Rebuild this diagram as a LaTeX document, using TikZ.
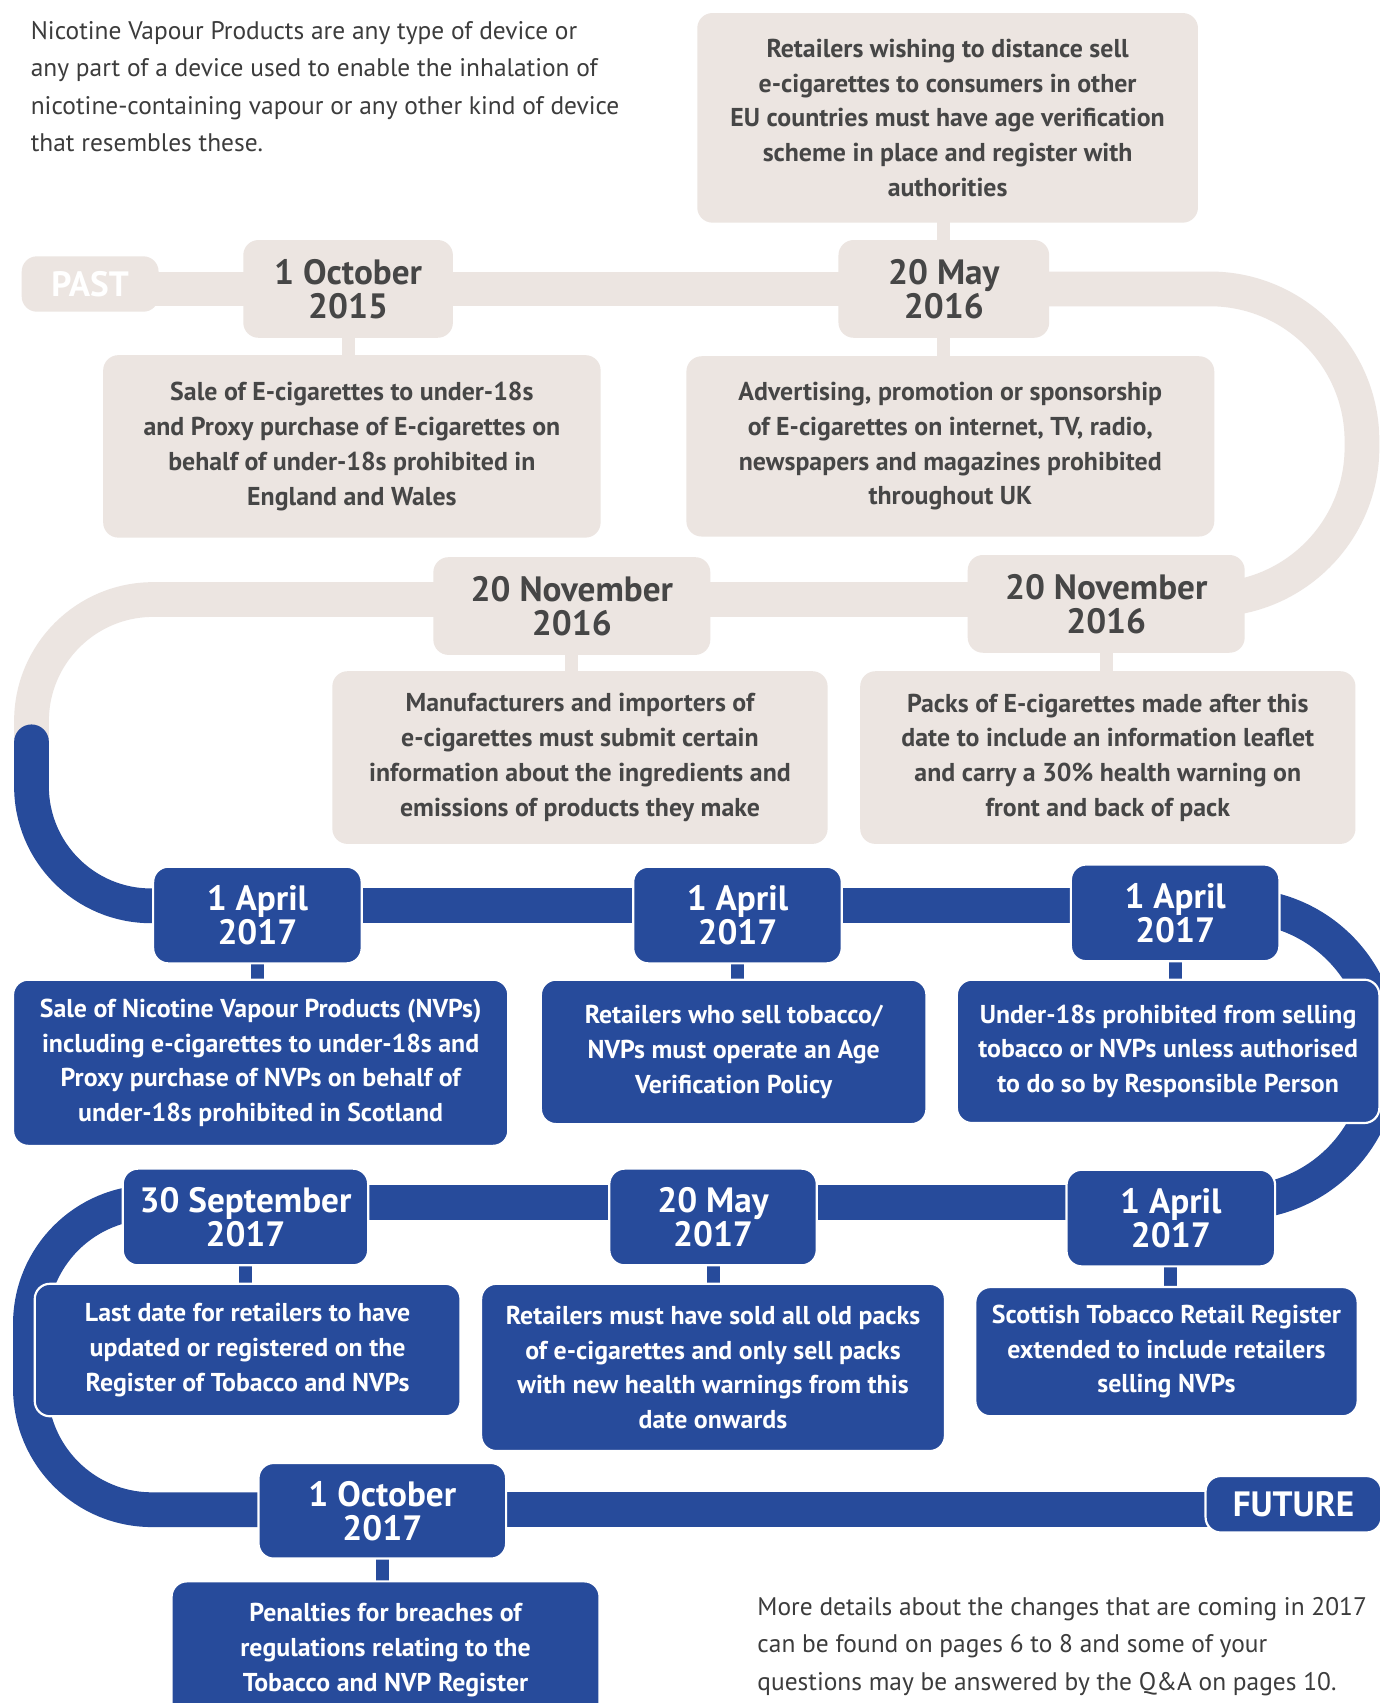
\documentclass[tikz,border=0pt]{standalone}
\usepackage{fontspec}
\setmainfont{PT Sans}
\usetikzlibrary{backgrounds}
\definecolor{beige}{HTML}{ECE5E1}
\definecolor{nblue}{HTML}{274B9B}
\definecolor{dgray}{HTML}{464646}
\definecolor{tgray}{HTML}{3C3C3C}
\newcommand\boxtxt{\bfseries\fontsize{11.9}{16}\selectfont}
\newcommand\datetxt{\bfseries\fontsize{16.2}{15.6}\selectfont}
\newcommand\introtxt{\fontsize{11.7}{17.3}\selectfont}
\newcommand\placebox[7]{\node[#6, minimum width={(#4-(#2))*0.5pt}, minimum height={(#5-(#3))*0.5pt}] (#1) at ({((#2)+(#4))/2},{((#3)+(#5))/2}) {#7};}
\tikzset{
  card/.style={rectangle, rounded corners=7pt, inner sep=0pt, align=center},
  bcard/.style={card, fill=beige, text=dgray, font=\boxtxt},
  bdate/.style={card, fill=beige, text=dgray, font=\datetxt},
  ucard/.style={card, fill=nblue, draw=white, line width=1pt, text=white, font=\boxtxt},
  udate/.style={card, fill=nblue, draw=white, line width=1pt, text=white, font=\datetxt},
  bband/.style={line width=16pt, draw=beige},
  uband/.style={line width=16pt, draw=nblue},
  bstem/.style={line width=6pt, draw=beige},
  ustem/.style={line width=6pt, draw=nblue},
}
\begin{document}
\begin{tikzpicture}[x=0.5pt, y=-0.5pt]
\useasboundingbox (0,0) rectangle (1270,1568);
% intro texts
\node[anchor=north west, align=left, text=tgray, font=\introtxt, inner sep=0pt] (intro) at (28,19)
  {Nicotine Vapour Products are any type of device or\\any part of a device used to enable the inhalation of\\nicotine-containing vapour or any other kind of device\\that resembles these.};
\node[anchor=north west, align=left, text=tgray, font=\introtxt, inner sep=0pt] (more) at (697,1470)
  {More details about the changes that are coming in 2017\\can be found on pages 6 to 8 and some of your\\questions may be answered by the Q\&A on pages 10.};
% beige boxes
\placebox{retail}{642}{12}{1103}{205}{bcard}{Retailers wishing to distance sell\\e-cigarettes to consumers in other\\EU countries must have age verification\\scheme in place and register with\\authorities}
\placebox{past}{20}{236}{146}{287}{bdate, text=white}{PAST}
\placebox{oct15}{224}{221}{417}{311}{bdate}{1 October\\2015}
\placebox{may16}{772}{221}{966}{311}{bdate}{20 May\\2016}
\placebox{saleEW}{95}{327}{553}{495}{bcard}{Sale of E-cigarettes to under-18s\\and Proxy purchase of E-cigarettes on\\behalf of under-18s prohibited in\\England and Wales}
\placebox{advert}{632}{328}{1118}{494}{bcard}{Advertising, promotion or sponsorship\\of E-cigarettes on internet, TV, radio,\\newspapers and magazines prohibited\\throughout UK}
\placebox{novL}{399}{513}{654}{603}{bdate}{20 November\\2016}
\placebox{novR}{891}{511}{1146}{601}{bdate}{20 November\\2016}
\placebox{manuf}{306}{618}{762}{777}{bcard}{Manufacturers and importers of\\e-cigarettes must submit certain\\information about the ingredients and\\emissions of products they make}
\placebox{packs}{792}{618}{1248}{777}{bcard}{Packs of E-cigarettes made after this\\date to include an information leaflet\\and carry a 30\% health warning on\\front and back of pack}
% blue boxes
\placebox{aprA}{141}{798}{333}{887}{udate}{1 April\\2017}
\placebox{aprB}{583}{798}{775}{887}{udate}{1 April\\2017}
\placebox{aprC}{986}{796}{1178}{885}{udate}{1 April\\2017}
\placebox{nvpScot}{12}{902}{468}{1055}{ucard}{Sale of Nicotine Vapour Products (NVPs)\\including e-cigarettes to under-18s and\\Proxy purchase of NVPs on behalf of\\under-18s prohibited in Scotland}
\placebox{ageVer}{498}{902}{853}{1035}{ucard}{Retailers who sell tobacco/\\NVPs must operate an Age\\Verification Policy}
\placebox{under18}{881}{902}{1270}{1034}{ucard}{Under-18s prohibited from selling\\tobacco or NVPs unless authorised\\to do so by Responsible Person}
\placebox{aprD}{982}{1077}{1174}{1166}{udate}{1 April\\2017}
\placebox{may17}{561}{1076}{752}{1165}{udate}{20 May\\2017}
\placebox{sep17}{113}{1076}{339}{1165}{udate}{30 September\\2017}
\placebox{lastDate}{32}{1182}{424}{1304}{ucard}{Last date for retailers to have\\updated or registered on the\\Register of Tobacco and NVPs}
\placebox{oldPacks}{443}{1182}{870}{1336}{ucard}{Retailers must have sold all old packs\\of e-cigarettes and only sell packs\\with new health warnings from this\\date onwards}
\placebox{scotReg}{898}{1185}{1250}{1304}{ucard}{Scottish Tobacco Retail Register\\extended to include retailers\\selling NVPs}
\placebox{oct17}{238}{1347}{466}{1435}{udate}{1 October\\2017}
\placebox{future}{1110}{1359}{1272}{1411}{udate}{FUTURE}
\placebox{penal}{158}{1456}{552}{1582}{ucard}{Penalties for breaches of\\regulations relating to the\\Tobacco and NVP Register}
% track and stems
\begin{scope}[on background layer]
\fill[white] (0,0) rectangle (1270,1568);
\coordinate (w1) at (1254,266);
\coordinate (w2) at (1254,552);
\coordinate (w3) at (29,552);
\coordinate (w4) at (29,700);
\coordinate (c0) at (29,683);
\coordinate (c1) at (29,834);
\coordinate (c2) at (1272,834);
\coordinate (c3) at (1272,1107);
\coordinate (c4) at (28,1107);
\coordinate (c5) at (28,1390);
\draw[bband] (past |- w1) -- (may16 |- w1);
\draw[bband, rounded corners=70pt] (may16 |- w1) -- (w1) -- (w2) -- (novR |- w2);
\draw[bband] (novR |- w2) -- (novL |- w2);
\draw[bband, rounded corners=56pt] (novL |- w2) -- (w3) -- (w4);
\draw[uband, line cap=round, rounded corners=55pt] (c0) -- (c1) -- (aprA |- c1);
\draw[uband] (aprA |- c1) -- (aprC |- c1);
\draw[uband, rounded corners=66pt] (aprC |- c1) -- (c2) -- (c3) -- (aprD |- c3);
\draw[uband] (aprD |- c3) -- (sep17 |- c3);
\draw[uband, rounded corners=56pt] (sep17 |- c3) -- (c4) -- (c5) -- (oct17 |- c5);
\draw[uband] (oct17 |- c5) -- (future |- c5);
\draw[bstem] (may16.center) -- (may16 |- retail.center);
\draw[bstem] (oct15.center) -- (oct15 |- saleEW.center);
\draw[bstem] (may16.center) -- (may16 |- advert.center);
\draw[bstem] (novL.center) -- (novL |- manuf.center);
\draw[bstem] (novR.center) -- (novR |- packs.center);
\draw[ustem] (aprA.center) -- (aprA |- nvpScot.center);
\draw[ustem] (aprB.center) -- (aprB |- ageVer.center);
\draw[ustem] (aprC.center) -- (aprC |- under18.center);
\draw[ustem] (sep17.center) -- (sep17 |- lastDate.center);
\draw[ustem] (may17.center) -- (may17 |- oldPacks.center);
\draw[ustem] (aprD.center) -- (aprD |- scotReg.center);
\draw[ustem] (oct17.center) -- (oct17 |- penal.center);
\end{scope}
\end{tikzpicture}
\end{document}
